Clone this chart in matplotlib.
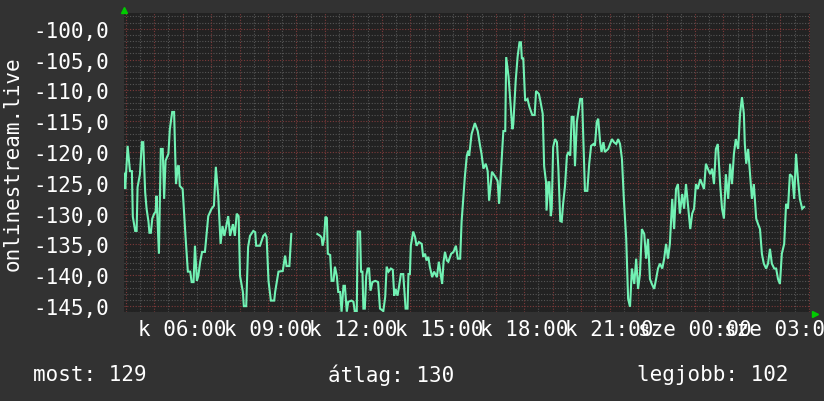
import numpy as np
import matplotlib
matplotlib.use("Agg")
import matplotlib.pyplot as plt

# time in minutes since 00:00 of day 1, signal values
t_min = [237, 239, 244, 249, 253, 255, 260, 263, 265, 270, 274, 277, 281, 284, 288, 290, 293, 296, 300, 303,
         305, 310, 314, 318, 321, 324, 330, 333, 338, 342, 346, 350, 352, 354, 360, 366, 371, 376, 379, 383,
         386, 390, 393, 397, 401, 407, 414, 421, 426, 430, 435, 440, 444, 448, 456, 460, 466, 470, 474, 478,
         481, 487, 489, 494, 495, 498, 502, 509, 513, 515, 523, 530, 534, 537, 541, 546, 553, 555, 562, 571,
         576, 579, 585, 589, 600,
         644, 650, 653, 655, 658, 661, 664, 666, 671, 674, 678, 681, 685, 688, 692, 695, 699, 702, 706, 709,
         716, 720, 723, 727, 729, 734, 736, 739, 741, 744, 747, 750, 753, 756, 760, 766, 772, 776, 783, 787,
         790, 794, 799, 803, 806, 809, 813, 816, 820, 825, 830, 834, 836, 839, 841, 846, 850, 853, 858, 864,
         867, 871, 874, 878, 881, 886, 890, 896, 900, 904, 907, 910, 913, 917, 920, 926, 931, 936, 940, 945,
         948, 952, 955, 959, 962, 964, 969, 976, 982, 987, 990, 994, 999, 1003, 1006, 1012, 1018, 1024, 1027, 1031,
         1036, 1040, 1042, 1047, 1052, 1055, 1057, 1062, 1066, 1070, 1073, 1075, 1078, 1082, 1087, 1091, 1097, 1102, 1105, 1111,
         1114, 1119, 1122, 1126, 1127, 1131, 1133, 1136, 1138, 1141, 1145, 1149, 1152, 1156, 1159, 1162, 1166, 1170, 1173, 1177,
         1180, 1184, 1187, 1191, 1194, 1198, 1202, 1205, 1208, 1213, 1217, 1221, 1226, 1229, 1233, 1236, 1240, 1243, 1247, 1250,
         1257, 1261, 1265, 1269, 1274, 1278, 1282, 1286, 1290, 1295, 1299, 1303, 1307, 1312, 1316, 1320, 1324, 1328, 1333, 1337,
         1341, 1345, 1349, 1354, 1358, 1362, 1366, 1371, 1375, 1379, 1383, 1387, 1392, 1396, 1400, 1404, 1408, 1413, 1417, 1421,
         1425, 1430, 1434, 1438, 1442, 1446, 1451, 1455, 1459, 1463, 1467, 1472, 1476, 1480, 1484, 1488, 1493, 1497, 1501, 1505,
         1510, 1514, 1518, 1522, 1526, 1531, 1535, 1539, 1543, 1545, 1548, 1552, 1556, 1560, 1564, 1569, 1573, 1577, 1581, 1585,
         1590, 1594, 1598, 1602, 1607, 1611, 1615, 1619, 1623, 1628, 1632, 1636, 1640, 1645, 1649, 1653, 1657, 1661, 1666, 1670]

signal = [-123.5, -126.0, -119.0, -123.1, -123.1, -130.5, -132.8, -132.8, -125.7, -123.6, -118.4, -118.4, -126.5, -129.2, -131.3, -133.1, -133.1, -130.8, -130.0, -129.7,
          -127.1, -136.5, -119.5, -119.5, -127.6, -121.4, -120.3, -116.3, -113.5, -113.5, -125.2, -122.3, -122.3, -125.5, -126.0, -133.6, -139.4, -139.4, -141.1, -141.1,
          -135.2, -140.9, -140.1, -137.8, -136.2, -136.2, -130.4, -129.2, -128.7, -122.4, -127.1, -134.9, -132.0, -133.6, -130.4, -133.6, -131.7, -133.6, -130.0, -130.4,
          -140.1, -142.7, -145.0, -145.0, -142.7, -135.4, -133.6, -132.8, -133.0, -135.2, -135.2, -133.6, -133.3, -133.8, -140.9, -144.1, -144.1, -142.7, -139.4, -139.3,
          -136.8, -138.5, -138.5, -133.3, np.nan,
          -133.3, -133.6, -133.9, -135.2, -134.1, -130.5, -130.7, -136.5, -136.7, -140.9, -140.9, -138.6, -140.1, -142.7, -142.7, -145.9, -141.7, -141.7, -145.9, -144.3,
          -144.1, -144.3, -145.9, -145.9, -132.9, -132.9, -139.4, -139.4, -145.4, -145.4, -140.1, -138.9, -138.9, -142.5, -141.1, -140.9, -141.1, -145.4, -145.8, -143.5,
          -138.6, -139.4, -138.9, -139.1, -143.3, -142.2, -143.3, -141.9, -139.8, -139.8, -145.4, -145.4, -139.8, -139.8, -135.2, -132.9, -133.8, -135.2, -134.6, -134.9,
          -137.0, -136.5, -137.6, -137.0, -138.6, -140.3, -139.4, -140.3, -137.8, -139.8, -141.4, -137.8, -136.2, -137.6, -137.8, -136.5, -136.2, -135.2, -137.3, -137.3,
          -131.3, -127.1, -123.9, -120.6, -119.8, -120.6, -117.1, -115.3, -116.6, -119.0, -120.3, -122.7, -121.9, -123.1, -127.9, -123.2, -123.9, -124.7, -128.4, -123.2,
          -116.6, -116.6, -104.6, -107.8, -113.0, -116.3, -115.5, -108.5, -104.6, -102.2, -102.2, -104.8, -104.8, -111.7, -111.4, -112.7, -114.0, -114.0, -110.1, -110.6,
          -111.7, -113.8, -122.3, -124.9, -129.5, -124.9, -124.9, -130.4, -129.2, -119.2, -117.9, -118.4, -122.7, -131.2, -131.3, -128.4, -125.5, -120.6, -120.0, -120.6,
          -114.3, -114.3, -122.3, -115.1, -113.5, -111.4, -111.4, -119.0, -126.3, -126.3, -121.9, -119.0, -118.7, -119.0, -115.1, -114.6, -118.4, -120.0, -118.4, -120.0,
          -119.5, -118.7, -117.9, -118.4, -118.7, -117.9, -118.7, -121.1, -127.6, -134.1, -143.8, -145.1, -138.9, -141.4, -137.3, -142.2, -139.8, -132.5, -133.3, -137.3,
          -134.1, -140.6, -141.4, -142.2, -140.6, -138.9, -138.1, -138.9, -137.3, -134.9, -137.3, -134.9, -127.6, -132.5, -126.0, -125.2, -130.0, -126.8, -129.2, -125.2,
          -128.4, -132.5, -130.0, -129.2, -125.2, -126.0, -124.4, -125.2, -126.0, -121.9, -122.7, -123.6, -122.7, -125.2, -119.5, -118.7, -125.2, -129.2, -130.8, -123.6,
          -127.6, -121.9, -125.2, -120.3, -117.9, -119.5, -113.8, -111.1, -113.8, -118.7, -121.9, -119.5, -123.6, -127.6, -125.2, -130.8, -131.7, -132.5, -136.5, -138.1,
          -138.9, -138.1, -135.7, -138.1, -138.9, -138.9, -140.6, -141.4, -136.5, -134.9, -128.4, -129.2, -123.6, -124.0, -127.6, -120.3, -124.4, -127.6, -129.2, -128.9]

tick_hours = [6, 9, 12, 15, 18, 21, 24, 27]
tick_labels = ["k 06:00", "k 09:00", "k 12:00", "k 15:00", "k 18:00", "k 21:00", "sze 00:00", "sze 03:00"]
y_ticks = [-100, -105, -110, -115, -120, -125, -130, -135, -140, -145]
y_label = "onlinestream.live"
summary = ["most: 129", "átlag: 130", "legjobb: 102"]

BG = "#323232"
PLOT_BG = "#222222"
LINE = "#72f2b4"
GRID = "#555555"
MGRID = "#7e3a3a"
TXT = "#ffffff"
FONT = "DejaVu Sans Mono"
FS = 15

fig = plt.figure(figsize=(8.24, 4.02), dpi=100, facecolor=BG)
ax = fig.add_axes([124 / 824, 1 - 313 / 402, (810 - 124) / 824, (313 - 14) / 402])
ax.set_facecolor(PLOT_BG)

xmin, xmax = 3.94, 28.04
ymin, ymax = -145.95, -97.45
ax.set_xlim(xmin, xmax)
ax.set_ylim(ymin, ymax)

# grid
for h in np.arange(4, 28.5, 1.0):
    ax.axvline(h - 0.5, color=GRID, lw=0.8, ls=(0, (1, 1.5)), zorder=1)
    ax.axvline(h, color=MGRID, lw=0.8, ls=(0, (1, 1.5)), zorder=1.1)
for v in np.arange(-146, -97, 1):
    if v % 5 == 0:
        ax.axhline(v, color=MGRID, lw=0.8, ls=(0, (1, 1.5)), zorder=1.1)
    else:
        ax.axhline(v, color=GRID, lw=0.8, ls=(0, (1, 1.5)), zorder=1)

hours = np.array(t_min, dtype=float) / 60.0
ax.plot(hours, np.array(signal, dtype=float), color=LINE, lw=1.5, zorder=3,
        solid_joinstyle="miter")

for s in ax.spines.values():
    s.set_visible(False)

ax.set_xticks(tick_hours)
ax.set_xticklabels(tick_labels, fontfamily=FONT, fontsize=FS, color=TXT)
ax.set_yticks(y_ticks)
ax.set_yticklabels([f"{v:.1f}".replace(".", ",") for v in y_ticks],
                   fontfamily=FONT, fontsize=FS, color=TXT)
ax.tick_params(axis="x", length=0, pad=5)
ax.tick_params(axis="y", length=0, pad=11)

ax.set_ylabel(y_label, fontfamily=FONT, fontsize=FS, color=TXT)
ax.yaxis.set_label_coords(-101 / 686, 0.5)

# green axis arrows
ax.plot([0], [1.01], marker="^", color="#00cc00", markersize=5, transform=ax.transAxes,
        clip_on=False, zorder=5)
ax.plot([1.008], [-0.008], marker=">", color="#00cc00", markersize=5, transform=ax.transAxes,
        clip_on=False, zorder=5)

xs = [33 / 824, 328 / 824, 637 / 824]
for x, s in zip(xs, summary):
    fig.text(x, 1 - 375 / 402, s, fontfamily=FONT, fontsize=FS, color=TXT,
             ha="left", va="center")

fig.savefig("out.png", dpi=100, facecolor=BG)
